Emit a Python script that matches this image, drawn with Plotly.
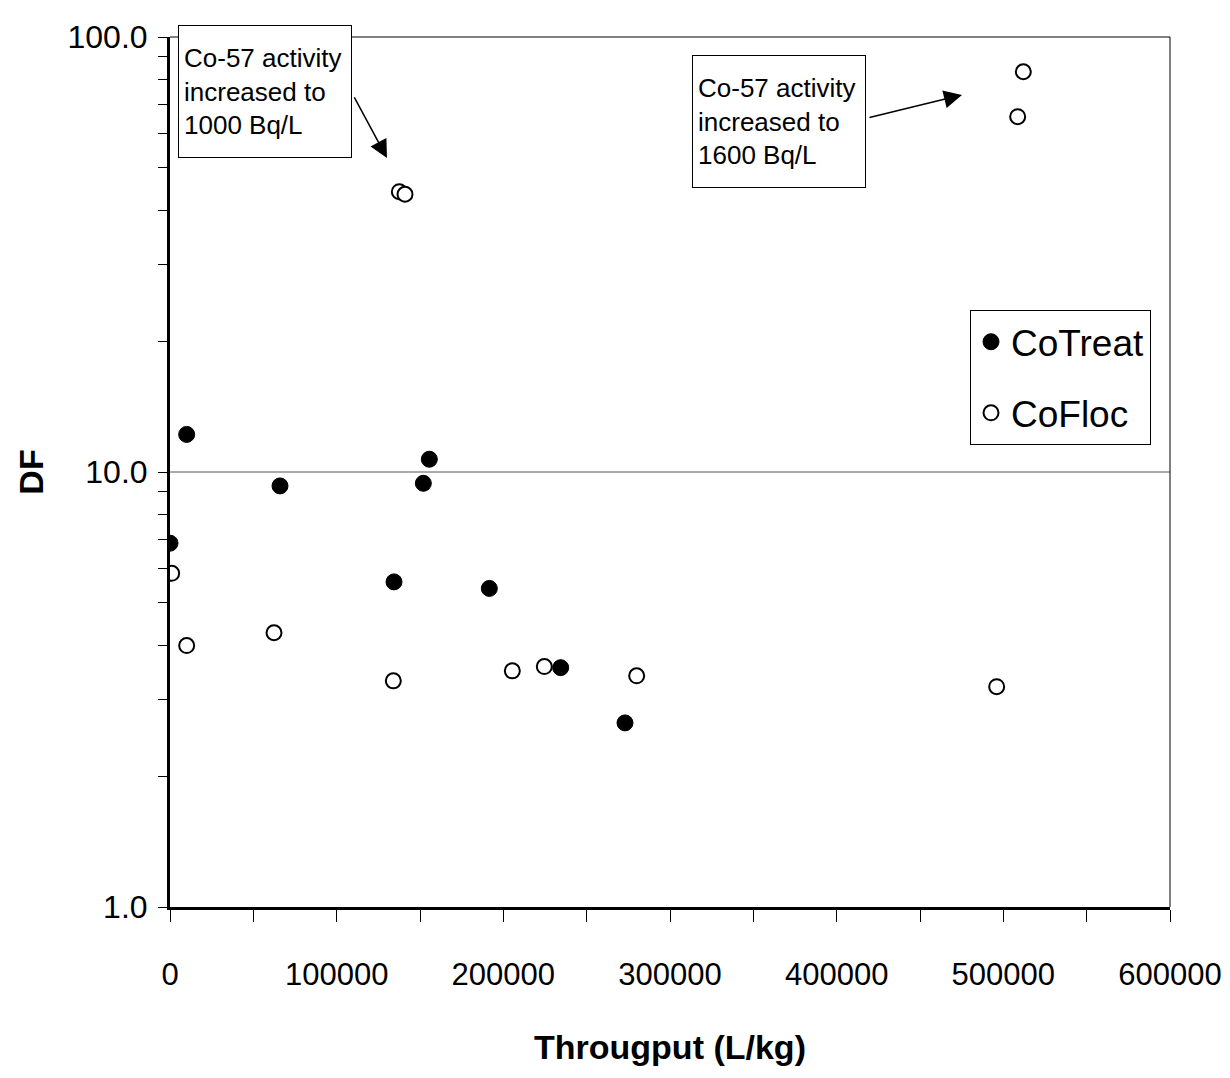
import math
import plotly.graph_objects as go

# CoTreat (filled)
cotreat_x = [0, 10000, 66000, 134400, 152000, 155600, 191600, 234400, 273000]
cotreat_y = [6.86, 12.2, 9.29, 5.59, 9.42, 10.7, 5.40, 3.55, 2.65]
# CoFloc (open)
cofloc_x = [1000, 10000, 62400, 134000, 137600, 141000, 205400, 224600, 280000, 496000, 508600, 512000]
cofloc_y = [5.85, 3.99, 4.27, 3.31, 44.1, 43.5, 3.49, 3.57, 3.40, 3.21, 65.6, 83.2]

x_ticks = [0, 100000, 200000, 300000, 400000, 500000, 600000]
x_ticktext = ["0", "100000", "200000", "300000", "400000", "500000", "600000"]
y_ticks = [1, 10, 100]
y_ticktext = ["1.0", "10.0", "100.0"]
y_minor = [2, 3, 4, 5, 6, 7, 8, 9, 20, 30, 40, 50, 60, 70, 80, 90]

FONT = "Liberation Sans, Arial"

fig = go.Figure()
fig.add_trace(go.Scatter(
    x=cotreat_x, y=cotreat_y, mode="markers", name="CoTreat",
    legendgroup="a",
    marker=dict(symbol="circle", size=16, color="black", line=dict(color="black", width=1)),
))
fig.add_trace(go.Scatter(
    x=cofloc_x, y=cofloc_y, mode="markers", name="CoFloc",
    legendgroup="b",
    marker=dict(symbol="circle", size=15, color="white", line=dict(color="black", width=2)),
))

# gridline at 10
fig.add_shape(type="line", xref="paper", x0=0, x1=1, yref="y", y0=10, y1=10,
              line=dict(color="#555555", width=1), layer="below")
# thin top and right borders
fig.add_shape(type="line", xref="paper", x0=0, x1=1, yref="paper", y0=1, y1=1,
              line=dict(color="black", width=1))
fig.add_shape(type="line", xref="paper", x0=1, x1=1, yref="paper", y0=0, y1=1,
              line=dict(color="black", width=1))

# arrows (annotation y on a log axis is given in log10 units)
fig.add_annotation(x=130200, y=math.log10(52.7), xref="x", yref="y",
                   ax=109800, ay=math.log10(73.6), axref="x", ayref="y",
                   text="\u200b", showarrow=True, arrowhead=2, arrowsize=2.4, arrowwidth=1.5,
                   arrowcolor="black", standoff=0, startstandoff=0, font=dict(size=2))
fig.add_annotation(x=475200, y=math.log10(73.6), xref="x", yref="y",
                   ax=418800, ay=math.log10(65.2), axref="x", ayref="y",
                   text="\u200b", showarrow=True, arrowhead=2, arrowsize=2.4, arrowwidth=1.5,
                   arrowcolor="black", standoff=0, startstandoff=0, font=dict(size=2))

# text boxes
box_font = dict(family=FONT, size=26, color="black")
fig.add_annotation(xref="paper", yref="paper", x=0.008, y=1.014, xanchor="left", yanchor="top",
                   text="Co-57 activity<br>increased to<br>1000 Bq/L", showarrow=False, align="left",
                   width=162, height=121, valign="middle",
                   bordercolor="black", borderwidth=1, borderpad=5, bgcolor="white", font=box_font)
fig.add_annotation(xref="paper", yref="paper", x=0.522, y=0.979, xanchor="left", yanchor="top",
                   text="Co-57 activity<br>increased to<br>1600 Bq/L", showarrow=False, align="left",
                   width=162, height=121, valign="middle",
                   bordercolor="black", borderwidth=1, borderpad=5, bgcolor="white", font=box_font)

fig.update_layout(
    width=1230, height=1078,
    margin=dict(l=170, r=60, t=37, b=171, autoexpand=False),
    paper_bgcolor="white", plot_bgcolor="white",
    font=dict(family=FONT, size=32, color="black"),
    showlegend=True,
    legend=dict(x=0.80, y=0.686, xanchor="left", yanchor="top",
                bordercolor="black", borderwidth=1, bgcolor="white",
                font=dict(family=FONT, size=37, color="black"),
                tracegroupgap=20, itemsizing="trace"),
    xaxis=dict(
        range=[0, 600001], tickvals=x_ticks, ticktext=x_ticktext,
        ticks="outside", ticklen=12, tickwidth=1, tickcolor="black",
        showline=True, linecolor="black", linewidth=3, showgrid=False, zeroline=False,
        ticklabelstandoff=26, automargin=False, tickfont=dict(size=31),
        minor=dict(dtick=50000, tick0=0, ticks="outside", ticklen=12, tickwidth=1, tickcolor="black", showgrid=False),
        title=dict(text="<b>Througput (L/kg)</b>", font=dict(family=FONT, size=34), standoff=44),
    ),
    yaxis=dict(
        type="log", range=[0, 2], tickvals=y_ticks, ticktext=y_ticktext,
        ticks="outside", ticklen=9, tickwidth=1, tickcolor="black",
        showline=True, linecolor="black", linewidth=3, showgrid=False, zeroline=False,
        automargin=False, tickfont=dict(size=32), ticklabelstandoff=4,
        minor=dict(tickvals=y_minor, ticks="outside", ticklen=9, tickwidth=1, tickcolor="black", showgrid=False),
        title=dict(text="<b>DF</b>", font=dict(family=FONT, size=34), standoff=14),
    ),
)

fig.write_html("out.html")
